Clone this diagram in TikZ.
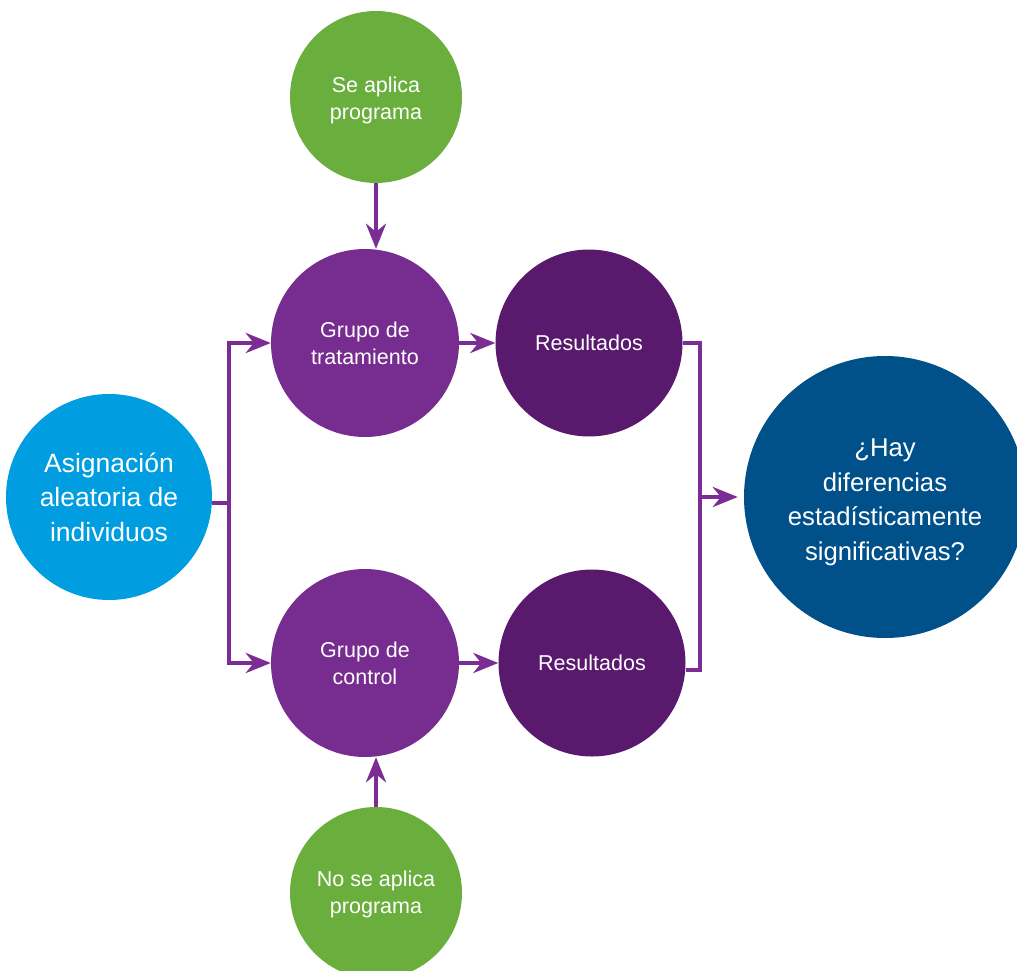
\documentclass[tikz,border=0pt]{standalone}
\usepackage{fontspec}
\setmainfont{Liberation Sans}
\usetikzlibrary{arrows.meta}
\definecolor{cgreen}{HTML}{6AAF3E}
\definecolor{cpurple}{HTML}{772C8F}
\definecolor{cdark}{HTML}{591A6E}
\definecolor{cblue}{HTML}{009DE0}
\definecolor{cnavy}{HTML}{00508A}
\definecolor{cline}{HTML}{7B2D93}
\tikzset{
  circ/.style={circle, inner sep=0pt, align=center, text=white, font=\fontsize{21.5}{27}\selectfont},
  greenc/.style={circ, fill=cgreen, minimum size=172pt},
  purplec/.style={circ, fill=cpurple, minimum size=188pt},
  darkc/.style={circ, fill=cdark, minimum size=187pt},
  conn/.style={draw=cline, line width=4.5pt},
  arr/.style={conn, -{Stealth[length=25pt,width=20pt,inset=8pt]}},
}
\begin{document}
\begin{tikzpicture}[x=1pt,y=-1pt]
\useasboundingbox (0,0) rectangle (1017,971);
\node[greenc] (se) at (376,97) {\rule{0pt}{21.5pt}Se aplica\\programa};
\node[purplec] (gt) at (365,343) {Grupo de\\tratamiento};
\node[darkc] (r1) at (589,343) {Resultados};
\node[circ, fill=cblue, minimum size=206pt, font=\fontsize{26.5}{34.5}\selectfont] (asig) at (109,497) {Asignación\\aleatoria de\\individuos};
\node[purplec] (gc) at (365,663) {Grupo de\\control};
\node[darkc] (r2) at (592,663) {Resultados};
\node[circ, fill=cnavy, minimum size=282pt, font=\fontsize{25.7}{34.5}\selectfont] (big) at (885,497) {\rule{0pt}{28pt}¿Hay\\diferencias\\estadísticamente\\significativas?};
\node[greenc] (nose) at (376,893) {\rule{0pt}{19pt}No se aplica\\programa};

\coordinate (j1) at (229,503);
\coordinate (j2) at (700,497);

\draw[conn] (asig.east |- j1) -- (j1);
\draw[arr] (j1) |- (gt.west);
\draw[arr] (j1) |- (gc.west);
\draw[arr] (gt.east) -- (r1.west);
\draw[arr] (gc.east) -- (r2.west);
\draw[arr] (se.south) -- (gt.north -| se.south);
\draw[arr] (nose.north) -- (gc.south -| nose.north);
\draw[conn] (r1.east) -| (j2) |- ([yshift=-7pt]r2.east);
\draw[arr, shorten >=6pt] (j2) -- (big.west |- j2);
\end{tikzpicture}
\end{document}
